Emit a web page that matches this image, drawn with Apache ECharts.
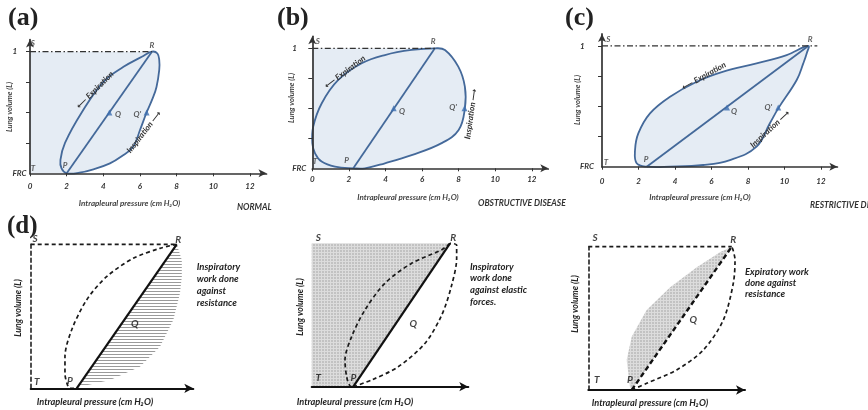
<!DOCTYPE html>
<html><head><meta charset="utf-8">
<script src="https://cdn.jsdelivr.net/npm/echarts@6/dist/echarts.min.js"></script>
<style>html,body{margin:0;padding:0;background:#fff}#c{width:868px;height:410px}</style>
</head><body><div id="c"></div>
<script>
// ---------------- DATA ----------------
const xTickValues = [0, 2, 4, 6, 8, 10, 12];
const yTickValues = [0.25, 0.5, 0.75, 1];
const yLabelValues = [0, 1];
const yLabelTexts = ['FRC', '1'];

// (a) NORMAL  (pressure cmH2O, volume L above FRC)
const aInspX = [2, 2.7, 3.5, 4.36, 5.0, 5.64, 6.0, 6.36, 6.7, 6.9, 7.05, 7.05, 6.95, 6.65];
const aInspY = [0, 0.005, 0.035, 0.082, 0.14, 0.22, 0.356, 0.5, 0.62, 0.71, 0.85, 0.93, 0.985, 1];
const aExpX = [6.65, 6.1, 5.1, 4.0, 2.82, 1.91, 1.66, 1.72, 2];
const aExpY = [1, 0.958, 0.875, 0.75, 0.5, 0.25, 0.11, 0.04, 0];
const aPR = [[2, 0], [6.65, 1]];
const aQ = [[4.33, 0.5], [6.36, 0.5]];
const aTop = [[0, 1], [6.65, 1]];

// (b) OBSTRUCTIVE DISEASE
const bInspX = [2.24, 2.88, 3.97, 5.43, 7.07, 8.0, 8.34, 8.34, 7.98, 7.25, 6.7];
const bInspY = [0, 0.0, 0.042, 0.11, 0.21, 0.32, 0.5, 0.68, 0.847, 0.986, 1];
const bExpX = [6.7, 5.43, 3.97, 2.7, 1.42, 0.51, 0.05, 0, 0.15, 0.51, 1.24, 2.24];
const bExpY = [1, 0.986, 0.944, 0.875, 0.736, 0.54, 0.347, 0.21, 0.125, 0.056, 0.014, 0];
const bPR = [[2.24, 0], [6.7, 1]];
const bQ = [[4.45, 0.5], [8.32, 0.5]];
const bTop = [[0, 1], [6.7, 1]];

// (c) RESTRICTIVE DISEASE
const cInspX = [2.45, 3.73, 5.55, 7.01, 8.47, 9.2, 9.66, 10.67, 11.03, 11.22, 11.3];
const cInspY = [0, 0, 0.014, 0.055, 0.166, 0.36, 0.483, 0.718, 0.856, 0.94, 1];
const cExpX = [11.3, 10.12, 8.47, 6.65, 5.19, 3.73, 2.63, 1.99, 1.81, 1.9, 2.45];
const cExpY = [1, 0.925, 0.856, 0.787, 0.704, 0.58, 0.442, 0.276, 0.138, 0.028, 0];
const cPR = [[2.45, 0], [11.3, 1]];
const cQ = [[6.85, 0.49], [9.66, 0.49]];
const cTop = [[0, 1], [11.8, 1]];

// (d) left: inspiratory work against resistance
const dLExpX = [6.35, 5.62, 4.46, 3.30, 2.43, 1.78, 1.49, 1.49, 1.63, 1.75, 2];
const dLExpY = [1, 0.972, 0.903, 0.775, 0.613, 0.405, 0.219, 0.104, 0.011, 0, 0];
const dLInspX = [6.35, 6.57, 6.57, 6.49, 6.2, 5.62, 4.75, 3.45, 2.14, 2];
const dLInspY = [1.0, 0.891, 0.775, 0.66, 0.474, 0.289, 0.15, 0.058, 0.011, 0];
const dLPR = [[2, 0], [6.35, 1]];
const dLTop = [[0, 1], [6.35, 1]];

// (d) middle: inspiratory work against elastic forces
const dMExpX = [6.65, 6.25, 4.81, 3.52, 2.56, 1.92, 1.6, 1.68, 1.84, 2];
const dMExpY = [1, 0.955, 0.861, 0.721, 0.535, 0.349, 0.186, 0.07, 0.005, 0];
const dMInspX = [2, 2.88, 4.16, 5.45, 6.25, 6.73, 6.97, 6.97, 6.65];
const dMInspY = [0, 0.047, 0.139, 0.303, 0.499, 0.708, 0.895, 0.987, 1];
const dMPR = [[2, 0], [6.65, 1]];
const dMArea = [[0, 0], [0, 1], [6.65, 1], [2, 0]];

// (d) right: expiratory work against resistance
const dRExpX = [2, 1.92, 1.77, 2.0, 2.69, 3.76, 5.0, 6.07, 6.61];
const dRExpY = [0, 0.023, 0.209, 0.372, 0.558, 0.716, 0.856, 0.961, 1];
const dRInspX = [2, 2.69, 4.07, 5.3, 6.22, 6.68, 6.76, 6.67, 6.61];
const dRInspY = [0, 0.047, 0.14, 0.279, 0.488, 0.744, 0.907, 0.977, 1];
const dRPR = [[2, 0], [6.61, 1]];
const dRTop = [[0, 1], [6.61, 1]];

// point letters (anchor in data units)
const letterNames = ['S', 'R', 'T', 'P', 'Q', "Q'"];
const aLetX = [0.16, 6.65, 0.16, 1.91, 4.8, 5.85], aLetY = [1.071, 1.055, 0.044, 0.068, 0.481, 0.481];
const bLetX = [0.3, 6.6, 0.15, 1.88, 4.9, 7.69], bLetY = [1.055, 1.055, 0.055, 0.063, 0.472, 0.51];
const cLetX = [0.35, 11.4, 0.22, 2.41, 7.23, 9.11], cLetY = [1.056, 1.056, 0.033, 0.061, 0.456, 0.492];
const dNames = ['S', 'R', 'T', 'P', 'Q'];
const dLLetX = [0.19, 6.42, 0.26, 1.71, 4.53], dLLetY = [1.04, 1.03, 0.046, 0.053, 0.451];
const dMLetX = [0.32, 6.81, 0.32, 2.0, 4.88], dMLetY = [1.035, 1.035, 0.059, 0.059, 0.442];
const dRLetX = [0.31, 6.68, 0.39, 1.92, 4.84], dRLetY = [1.059, 1.047, 0.07, 0.07, 0.488];

// ---------------- HELPERS ----------------
const FF = 'Lato, "Liberation Sans", "DejaVu Sans", sans-serif';
const zip = (xs, ys) => xs.map((x, i) => [x, ys[i]]);
const blueLine = '#44699a', blueFill = '#e5ecf4', dark = '#333';

function mkCanvas(w, h, draw) { const c = document.createElement('canvas'); c.width = w; c.height = h; draw(c.getContext('2d')); return c; }
const hatch = mkCanvas(4, 3, g => { g.fillStyle = '#ffffff'; g.fillRect(0, 0, 4, 3); g.fillStyle = '#9a9a9a'; g.fillRect(0, 0, 4, 1); });
const stipple = mkCanvas(3, 3, g => { g.fillStyle = '#c2c2c2'; g.fillRect(0, 0, 3, 3); g.fillStyle = '#dcdcdc'; g.fillRect(0, 0, 3, 1); g.fillRect(0, 0, 1, 3); });

function poly(gi, pts, style, smooth) {
  return { type: 'custom', xAxisIndex: gi, yAxisIndex: gi, coordinateSystem: 'cartesian2d', clip: false, silent: true,
    data: [pts[0]], z: 2,
    renderItem: (params, api) => ({ type: 'polygon', shape: { points: pts.map(p => api.coord(p)), smooth: smooth || 0 }, style: style }) };
}
function line(gi, pts, ls, smooth) {
  return { type: 'line', xAxisIndex: gi, yAxisIndex: gi, data: pts, symbol: 'none', smooth: smooth || false, clip: false, silent: true, lineStyle: ls, z: 3 };
}
function tris(gi, pts) {
  return { type: 'scatter', xAxisIndex: gi, yAxisIndex: gi, data: pts, symbol: 'triangle', symbolSize: [6, 6], clip: false, silent: true, itemStyle: { color: '#3d6fb0' }, z: 4 };
}
function letters(gi, xs, ys, names, size, color) {
  return { type: 'scatter', xAxisIndex: gi, yAxisIndex: gi, clip: false, silent: true, symbolSize: 0.1,
    itemStyle: { color: 'rgba(0,0,0,0)' }, z: 5,
    data: xs.map((x, i) => ({ value: [x, ys[i]], name: names[i] })),
    label: { show: true, position: 'inside', formatter: '{b}', fontSize: size, fontStyle: 'italic', fontWeight: 'bold', fontFamily: FF, color: color } };
}
function txt(x, y, text, font, o) {
  o = o || {};
  return { type: 'text', x: x, y: y, rotation: o.rot || 0, silent: true, z: 20,
    style: { text: text, font: font, fill: o.color || dark, align: o.align || 'center', verticalAlign: o.va || 'middle',
      textAlign: o.align || 'center', textVerticalAlign: o.va || 'middle', lineHeight: o.lh || 12 } };
}

// ---------------- LAYOUT ----------------
const topGrids = [
  { left: 30, top: 39.5, width: 236.5, height: 133.8 },
  { left: 312.3, top: 36.3, width: 236, height: 132 },
  { left: 602, top: 33.9, width: 235.4, height: 132.8 }
];
const botGrids = [
  { left: 30.7, top: 244.3, width: 162.6, height: 144, xmax: 7.07 },
  { left: 311.7, top: 243.3, width: 156.6, height: 143.4, xmax: 7.53 },
  { left: 588.3, top: 246.7, width: 156.7, height: 143.3, xmax: 7.22 }
];
const xLabelMargins = [9, 7.5, 10.5];
const yLabelMargins = [17.5, 20, 22];

const grid = [], xAxis = [], yAxis = [];
const labelFont = { fontSize: 8, fontStyle: 'italic', fontWeight: 'bold', fontFamily: FF, color: dark };
topGrids.forEach((g, i) => {
  grid.push({ left: g.left, top: g.top, width: g.width, height: g.height, show: false, outerBoundsMode: 'none' });
  xAxis.push({ gridIndex: i, type: 'value', min: 0, max: 12.9, z: 6,
    axisLine: { show: true, onZero: false, symbol: ['none', 'arrow'], symbolSize: [6, 8], lineStyle: { color: dark, width: 1.7 } },
    axisTick: { show: true, customValues: xTickValues, length: 3, lineStyle: { color: dark, width: 1 } },
    axisLabel: Object.assign({ show: true, customValues: xTickValues, margin: xLabelMargins[i] }, labelFont),
    splitLine: { show: false } });
  yAxis.push({ gridIndex: i, type: 'value', min: 0, max: 1.1, z: 6,
    axisLine: { show: true, onZero: false, symbol: ['none', 'arrow'], symbolSize: [6, 8], lineStyle: { color: dark, width: 1.7 } },
    axisTick: { show: true, customValues: yTickValues, length: 4, lineStyle: { color: dark, width: 1 } },
    axisLabel: Object.assign({ show: true, customValues: yLabelValues, align: 'left', margin: yLabelMargins[i],
      formatter: v => yLabelTexts[yLabelValues.indexOf(v)] }, labelFont),
    splitLine: { show: false } });
});
botGrids.forEach((g, j) => {
  const i = j + 3;
  grid.push({ left: g.left, top: g.top, width: g.width, height: g.height, show: false, outerBoundsMode: 'none' });
  xAxis.push({ gridIndex: i, type: 'value', min: 0, max: g.xmax, z: 6,
    axisLine: { show: true, onZero: false, symbol: ['none', 'arrow'], symbolSize: [7, 9], lineStyle: { color: '#111', width: 2 } },
    axisTick: { show: false }, axisLabel: { show: false }, splitLine: { show: false } });
  yAxis.push({ gridIndex: i, type: 'value', min: 0, max: 1, z: 6,
    axisLine: { show: j !== 1, onZero: false, lineStyle: { color: '#222', width: 1.6, type: [4, 3] } },
    axisTick: { show: false }, axisLabel: { show: false }, splitLine: { show: false } });
});

// ---------------- SERIES ----------------
const series = [];
const loopStyle = { fill: blueFill, stroke: blueLine, lineWidth: 1.8 };
const diagStyle = { color: blueLine, width: 1.8 };
const dashDot = { color: '#333', width: 1.3, type: [6, 2.5, 1.5, 2.5] };

function topPanel(gi, ix, iy, ex, ey, pr, q, top, tint, lx, ly) {
  const insp = zip(ix, iy), exp = zip(ex, ey);
  if (tint) series.push(poly(gi, [[0, 0]].concat(exp.slice().reverse(), [[0, 1]]), { fill: blueFill }, 0));
  series.push(poly(gi, insp.concat(exp.slice(1, -1)), loopStyle, 0.4));
  series.push(line(gi, pr, diagStyle));
  series.push(line(gi, top, dashDot));
  series.push(tris(gi, q));
  series.push(letters(gi, lx, ly, letterNames, 8, dark));
}
topPanel(0, aInspX, aInspY, aExpX, aExpY, aPR, aQ, aTop, true, aLetX, aLetY);
topPanel(1, bInspX, bInspY, bExpX, bExpY, bPR, bQ, bTop, true, bLetX, bLetY);
topPanel(2, cInspX, cInspY, cExpX, cExpY, cPR, cQ, cTop, false, cLetX, cLetY);

const dash = { color: '#1a1a1a', width: 1.7, type: [4, 3] };
// d-left
series.push(poly(3, dLPR.concat(zip(dLInspX, dLInspY).slice(1, -1)), { fill: { image: hatch, repeat: 'repeat' } }, 0));
series.push(line(3, dLTop, dash));
series.push(line(3, zip(dLExpX, dLExpY), dash, 0.3));
series.push(line(3, dLPR, { color: '#111', width: 2.2 }));
series.push(letters(3, dLLetX, dLLetY, dNames, 10, '#111'));
// d-middle
series.push(poly(4, dMArea, { fill: { image: stipple, repeat: 'repeat' } }, 0));
series.push(line(4, zip(dMExpX, dMExpY), dash, 0.3));
series.push(line(4, zip(dMInspX, dMInspY), dash, 0.3));
series.push(line(4, dMPR, { color: '#111', width: 2.2 }));
series.push(letters(4, dMLetX, dMLetY, dNames, 10, '#111'));
// d-right
series.push(poly(5, zip(dRExpX, dRExpY), { fill: { image: stipple, repeat: 'repeat' } }, 0));
series.push(line(5, dRTop, dash));
series.push(line(5, zip(dRInspX, dRInspY), dash, 0.3));
series.push(line(5, dRPR, { color: '#111', width: 2.4, type: [5, 3] }));
series.push(letters(5, dRLetX, dRLetY, dNames, 10, '#111'));

// ---------------- TEXT ----------------
const fS = s => 'italic bold ' + s + 'px ' + FF;
const serif = s => 'bold ' + s + 'px "Liberation Serif", "DejaVu Serif", serif';
const xTitle = 'Intrapleural pressure (cm H\u2082O)';
const yTitle = 'Lung volume (L)';
const graphic = [
  txt(8, 18, '(a)', serif(26), { align: 'left', color: '#222' }),
  txt(277, 18, '(b)', serif(26), { align: 'left', color: '#222' }),
  txt(565, 18, '(c)', serif(26), { align: 'left', color: '#222' }),
  txt(7, 227, '(d)', serif(25), { align: 'left', color: '#222' }),
  txt(129.5, 203, xTitle, fS(8), { color: '#444' }),
  txt(408, 197, xTitle, fS(8), { color: '#444' }),
  txt(700, 197, xTitle, fS(8), { color: '#444' }),
  txt(36.7, 401.7, xTitle, fS(9.2), { align: 'left', color: '#222' }),
  txt(296.7, 401.7, xTitle, fS(9.2), { align: 'left', color: '#222' }),
  txt(591.7, 403.3, xTitle, fS(9.2), { align: 'left', color: '#222' }),
  txt(10, 107, yTitle, fS(7.6), { rot: Math.PI / 2, color: '#444' }),
  txt(292, 98, yTitle, fS(7.6), { rot: Math.PI / 2, color: '#444' }),
  txt(578, 100, yTitle, fS(7.6), { rot: Math.PI / 2, color: '#444' }),
  txt(18.3, 308, yTitle, fS(8.8), { rot: Math.PI / 2, color: '#222' }),
  txt(300, 307, yTitle, fS(8.8), { rot: Math.PI / 2, color: '#222' }),
  txt(575, 304, yTitle, fS(8.8), { rot: Math.PI / 2, color: '#222' }),
  txt(237, 207, 'NORMAL', fS(8.5), { align: 'left' }),
  txt(478, 203, 'OBSTRUCTIVE DISEASE', fS(8.5), { align: 'left' }),
  txt(810, 205, 'RESTRICTIVE DISEASE', fS(8.5), { align: 'left' }),
  txt(95, 90, '\u27F5 Expiration', fS(8.2), { rot: 45 * Math.PI / 180 }),
  txt(144, 132, 'Inspiration \u27F6', fS(8.2), { rot: 52 * Math.PI / 180 }),
  txt(345, 72, '\u27F5 Expiration', fS(8.2), { rot: 37 * Math.PI / 180 }),
  txt(471, 114, 'Inspiration \u27F6', fS(8.2), { rot: 82 * Math.PI / 180 }),
  txt(704, 76, '\u27F5 Expiration', fS(8.2), { rot: 29 * Math.PI / 180 }),
  txt(770, 129, 'Inspiration \u27F6', fS(8.2), { rot: 43 * Math.PI / 180 }),
  txt(196.7, 260.7, 'Inspiratory\nwork done\nagainst\nresistance', fS(9.5), { align: 'left', va: 'top', lh: 12, color: '#222' }),
  txt(470, 260.7, 'Inspiratory\nwork done\nagainst elastic\nforces.', fS(9.5), { align: 'left', va: 'top', lh: 11.7, color: '#222' }),
  txt(745, 266.2, 'Expiratory work\ndone against\nresistance', fS(9.5), { align: 'left', va: 'top', lh: 11, color: '#222' })
];

const chart = echarts.init(document.getElementById('c'), null, { renderer: 'canvas' });
chart.setOption({ animation: false, backgroundColor: '#ffffff', grid, xAxis, yAxis, series, graphic });
</script></body></html>
